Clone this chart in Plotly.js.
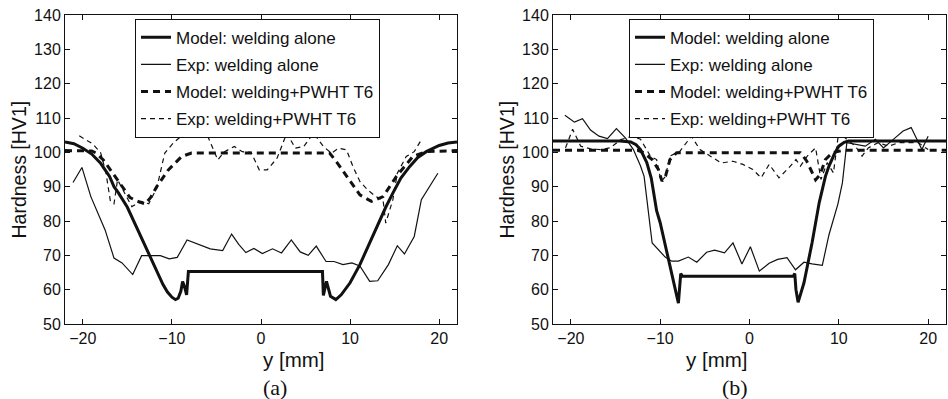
<!DOCTYPE html>
<html>
<head>
<meta charset="utf-8">
<script src="https://cdn.plot.ly/plotly-3.0.1.min.js"></script>
<style>html,body{margin:0;padding:0;background:#fff;}#chart{width:948px;height:399px;}</style>
</head>
<body>
<div id="chart"></div>
<script>
// ---- Panel (a) ----
const aModelWeldX = [-22, -21, -20, -19, -18, -17, -16.5, -16, -15, -14.7, -14, -13, -12, -11, -10.5, -10, -9.6, -9.3, -9, -8.8, -8.6, -8.35, -8.15, 6.9, 7.0, 7.35, 7.8, 8.4, 9, 10, 11.1, 12, 12.95, 14, 14.8, 15.7, 16.7, 17.6, 18.55, 20, 21, 22];
const aModelWeldH = [103.0, 102.5, 101.2, 99.5, 96.8, 93.0, 90.0, 88.2, 84.0, 82.3, 78.3, 72.6, 67.0, 61.5, 59.3, 57.8, 57.1, 57.5, 59.5, 62.4, 61, 58.5, 65.3, 65.3, 58.3, 62.4, 58.1, 57.1, 58.5, 62, 67.3, 72.5, 78.4, 84, 88.1, 92.5, 95.9, 98.5, 100.2, 102.0, 102.7, 103.0];

const aExpWeldX = [-21.1, -20.1, -19.1, -17.5, -16.5, -15.6, -14.4, -13.4, -12.4, -11.3, -10.3, -9.4, -8.3, -5.7, -4.3, -3.3, -2.5, -1.7, -0.8, 0.15, 1.3, 2.3, 3.4, 4.4, 5.3, 6.2, 7.3, 8.2, 9.2, 10.2, 11.1, 12.2, 13.1, 14.3, 15.3, 16.1, 17.2, 18.0, 19.85];
const aExpWeldH = [91.2, 95.6, 87.1, 77.4, 69.2, 67.8, 64.4, 69.9, 69.9, 69.9, 69.0, 69.4, 74.5, 71.9, 71.4, 76.2, 73.2, 70.8, 72.0, 70.5, 71.9, 70.7, 74.5, 71.0, 70.0, 72.7, 68.2, 68.2, 67.3, 67.8, 66.9, 62.4, 62.6, 67.3, 72.8, 70.4, 75.5, 86.2, 93.9];

const aModelPwhtX = [-22, -19, -18.5, -17.7, -16.8, -15.8, -14.7, -13.7, -13.0, -12.4, -11.7, -10.4, -8.9, -7.8, 7.3, 7.7, 8.6, 9.6, 11.1, 12.4, 13.7, 15.2, 17.05, 18.55, 22];
const aModelPwhtH = [100.5, 100.4, 99.8, 97.8, 94.5, 91.0, 86.8, 85.6, 85.0, 86.8, 90.0, 94.9, 98.8, 99.8, 99.9, 99.8, 96.8, 93.0, 87.6, 85.7, 87.1, 93.0, 98.8, 100.2, 100.5];

const aExpPwhtX = [-20.4, -18.9, -18.0, -17.4, -16.9, -16.5, -16.1, -15.3, -14.5, -13.4, -12.6, -11.7, -10.8, -9.85, -8.55, -7.3, -6.0, -4.85, -4.1, -3.0, -2.1, -1.1, -0.2, 0.7, 1.8, 2.9, 3.85, 4.8, 5.9, 7.0, 7.9, 8.7, 9.6, 10.3, 11.1, 12.0, 12.9, 13.7, 14.0, 14.8, 15.3, 16.3, 17.2, 18.1];
const aExpPwhtH = [104.8, 102.5, 99.9, 94, 85.7, 85.0, 92.0, 88, 84.2, 85.7, 85.0, 89.6, 99.8, 102.7, 105.6, 106.3, 104.8, 97.8, 100.2, 101.7, 100.2, 100, 94.9, 94.9, 98.3, 105.6, 101.2, 101.7, 105.6, 101.7, 99.75, 101.2, 100.7, 96, 91.5, 89.0, 87.1, 86.2, 79.4, 86.2, 93.9, 98.8, 100.2, 104.1];

// ---- Panel (b) ----
const bModelWeldX = [-22, -14.5, -13.3, -12.7, -12.2, -11.5, -11.0, -10.4, -10.0, -9.07, -8.33, -7.96, -7.7, -7.5, 4.9, 5.07, 5.2, 5.44, 6.1, 7.0, 7.8, 8.5, 8.9, 9.5, 10.0, 10.6, 11.1, 22];
const bModelWeldH = [103.3, 103.3, 103.0, 102.2, 100.8, 97.0, 92.5, 83.0, 79.5, 69.2, 61.0, 56.1, 64.7, 63.9, 63.9, 64.7, 60, 56.3, 62.0, 73.6, 85.3, 93.0, 96.0, 99.5, 101.8, 102.9, 103.3, 103.3];

const bExpWeldX = [-20.67, -19.6, -18.7, -17.8, -16.85, -15.9, -14.9, -13.9, -13.0, -12.2, -11.8, -10.9, -9.44, -8.7, -7.96, -6.85, -5.9, -4.8, -3.9, -2.8, -1.85, -0.85, 0.1, 1.1, 2.2, 3.15, 4.2, 5.15, 6.1, 7.0, 8.15, 8.9, 9.9, 10.4, 10.9, 11.85, 12.96, 14.1, 15.0, 16.3, 17.2, 18.1, 19.3, 20.0];
const bExpWeldH = [110.8, 108.8, 109.8, 106.5, 104.7, 104.0, 106.9, 104.2, 100.8, 96.0, 93.0, 73.6, 69.5, 68.3, 68.3, 69.5, 68.0, 70.9, 71.5, 70.7, 73.6, 67.5, 72.5, 65.4, 67.7, 68.8, 69.3, 65.8, 68.0, 67.5, 67.1, 76, 85, 91.1, 102.8, 102.3, 101.8, 103.8, 101.3, 104.2, 106.2, 107.2, 100.8, 104.7];

const bModelPwhtX = [-22, -12.5, -11.85, -10.9, -10.2, -9.8, -9.4, -8.9, -8.15, 5.7, 6.4, 7.0, 7.4, 7.9, 8.5, 9.3, 10.5, 22];
const bModelPwhtH = [100.6, 100.6, 99.9, 97.9, 95.0, 91.6, 93.1, 97.9, 99.9, 99.9, 97.5, 94, 92.0, 93.5, 97.9, 99.9, 100.6, 100.6];

const bExpPwhtX = [-20.6, -19.8, -18.9, -17.8, -16.7, -15.6, -14.4, -13.1, -12.2, -11.1, -10.4, -9.9, -9.4, -8.9, -7.8, -6.5, -5.55, -4.4, -3.15, -1.85, -0.74, 0.37, 1.3, 2.2, 3.3, 4.4, 5.2, 5.7, 6.5, 7.4, 8.0, 8.7, 9.4, 10.0, 10.7, 11.85, 12.6, 13.3, 14.4, 15.6, 16.7, 17.8, 18.9, 20.0];
const bExpPwhtH = [101.3, 106.7, 101.8, 101.0, 100.8, 101.3, 103.7, 104.7, 103.8, 98.9, 97.9, 91.5, 93, 98.9, 100.3, 104.7, 100.8, 98.9, 96.9, 97.4, 96.5, 95.0, 92.6, 96.5, 92.6, 95.5, 97.9, 96.0, 99, 101.3, 92.1, 97, 94, 106.2, 104.2, 101.8, 98.9, 101.3, 102.8, 101.8, 102.8, 102.8, 102.8, 100.8];

const seriesNames = ["Model: welding alone", "Exp: welding alone", "Model: welding+PWHT T6", "Exp: welding+PWHT T6"];
const xTickVals = [-20, -10, 0, 10, 20];
const yTickVals = [50, 60, 70, 80, 90, 100, 110, 120, 130, 140];
const panelLabels = ["(a)", "(b)"];
const xTitle = "y [mm]";
const yTitle = "Hardness [HV1]";

const C = "#111";
const styles = [
  {color: C, width: 3, dash: "solid"},
  {color: C, width: 1.2, dash: "solid"},
  {color: C, width: 3, dash: "7px,5px"},
  {color: C, width: 1.2, dash: "5px,4px"}
];

function mk(xs, ys, i, xa, ya, leg) {
  return {x: xs, y: ys, type: "scatter", mode: "lines", name: seriesNames[i],
    line: styles[i], xaxis: xa, yaxis: ya, legend: leg, legendgroup: leg + i, showlegend: true};
}

const data = [
  mk(aModelWeldX, aModelWeldH, 0, "x", "y", "legend"),
  mk(aExpWeldX, aExpWeldH, 1, "x", "y", "legend"),
  mk(aModelPwhtX, aModelPwhtH, 2, "x", "y", "legend"),
  mk(aExpPwhtX, aExpPwhtH, 3, "x", "y", "legend"),
  mk(bModelWeldX, bModelWeldH, 0, "x2", "y2", "legend2"),
  mk(bExpWeldX, bExpWeldH, 1, "x2", "y2", "legend2"),
  mk(bModelPwhtX, bModelPwhtH, 2, "x2", "y2", "legend2"),
  mk(bExpPwhtX, bExpPwhtH, 3, "x2", "y2", "legend2")
];

const fam = "Arial, Liberation Sans, sans-serif";
const font = {family: fam, size: 16, color: "#111"};
function xax(dom, anchor) {
  return {domain: dom, anchor: anchor, range: [-22, 22], tickvals: xTickVals,
    ticktext: xTickVals.map(v => v < 0 ? "\u2212" + Math.abs(v) : String(v)),
    ticks: "inside", ticklen: 5, tickcolor: "#111", showline: true, linecolor: "#111", linewidth: 1,
    mirror: "ticks", showgrid: false, zeroline: false, tickfont: font};
}
function yax(anchor) {
  return {domain: [0, 1], anchor: anchor, range: [50, 140], tickvals: yTickVals,
    ticks: "inside", ticklen: 5, tickcolor: "#111", showline: true, linecolor: "#111", linewidth: 1,
    mirror: "ticks", showgrid: false, zeroline: false, tickfont: font};
}
const legFont = {family: fam, size: 17, color: "#111"};
function leg(x) {
  return {x: x, y: 0.988, xanchor: "left", yanchor: "top", bgcolor: "#fff", bordercolor: "#111",
    borderwidth: 1, font: legFont, traceorder: "grouped", tracegroupgap: 2};
}

const xtFont = {family: fam, size: 20.5, color: "#111"};
const ytFont = {family: fam, size: 19.5, color: "#111"};
const serif = {family: "Times New Roman, Liberation Serif, serif", size: 22, color: "#111"};
const layout = {
  width: 948, height: 399,
  margin: {l: 0, r: 0, t: 15, b: 75},
  paper_bgcolor: "#fff", plot_bgcolor: "#fff",
  font: font,
  xaxis: xax([65/948, 457/948], "y"),
  yaxis: yax("x"),
  xaxis2: xax([553/948, 946/948], "y2"),
  yaxis2: yax("x2"),
  legend: leg(135/948),
  legend2: leg(629/948),
  annotations: [
    {text: xTitle, xref: "paper", yref: "paper", x: 261/948, y: -35/309, yanchor: "middle", showarrow: false, font: xtFont},
    {text: xTitle, xref: "paper", yref: "paper", x: 750/948, y: -35/309, yanchor: "middle", showarrow: false, font: xtFont},
    {text: panelLabels[0], xref: "paper", yref: "paper", x: 261/948, y: -63/309, yanchor: "middle", showarrow: false, font: serif},
    {text: panelLabels[1], xref: "paper", yref: "paper", x: 750/948, y: -63/309, yanchor: "middle", showarrow: false, font: serif},
    {text: yTitle, xref: "paper", yref: "paper", x: 18/948, y: 0.5, xanchor: "center", textangle: -90, showarrow: false, font: ytFont},
    {text: yTitle, xref: "paper", yref: "paper", x: 506/948, y: 0.5, xanchor: "center", textangle: -90, showarrow: false, font: ytFont}
  ]
};

Plotly.newPlot("chart", data, layout, {staticPlot: true, displayModeBar: false});
</script>
</body>
</html>
